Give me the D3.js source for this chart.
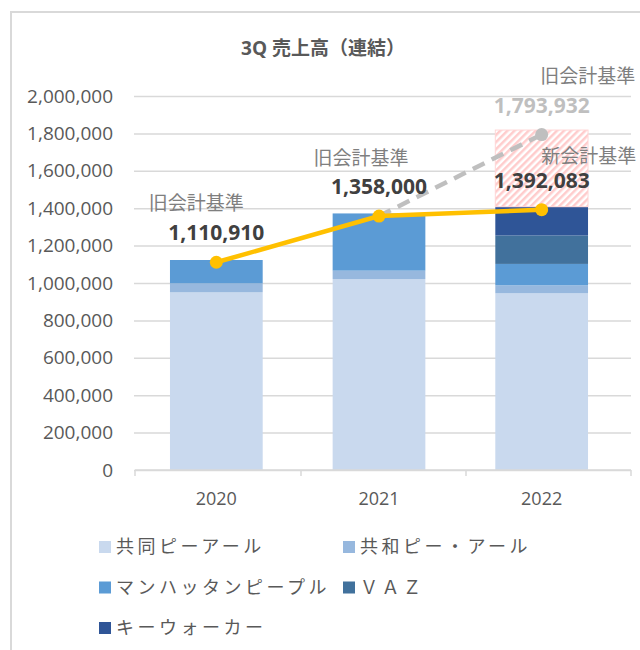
<!DOCTYPE html>
<html>
<head>
<meta charset="utf-8">
<script src="https://cdn.jsdelivr.net/npm/d3@7"></script>
<style>
  body { margin: 0; background: #fff; }
  svg text { font-family: "Open Sans", "Noto Sans CJK JP", sans-serif; }
</style>
</head>
<body>
<div id="chart"></div>
<script>
// data
const years = ["2020", "2021", "2022"];
const seriesNames = ["共同ピーアール", "共和ピー・アール", "マンハッタンピープル", "ＶＡＺ", "キーウォーカー"];
const seriesColors = ["#c9d9ee", "#97b8de", "#5b9bd5", "#41719c", "#2f5597"];
const kyodo = [950000, 1021000, 945000];
const kyowa = [48000, 45000, 43000];
const manhattan = [125000, 306000, 114000];
const vaz = [0, 0, 152000];
const keywalker = [0, 0, 154000];
const oldStandardGap = [0, 0, 410000];   // hatched part, 2022 only
const consolidated = [1110910, 1358000, 1392083];
const oldStandard2022 = 1793932;
const yTicks = [0, 200000, 400000, 600000, 800000, 1000000, 1200000, 1400000, 1600000, 1800000, 2000000];

const width = 640, height = 650;

const svg = d3.select("#chart").append("svg")
    .attr("width", width)
    .attr("height", height);

// hatch pattern for the 2022 old-standard gap
const defs = svg.append("defs");
const pat = defs.append("pattern")
    .attr("id", "hatch")
    .attr("patternUnits", "userSpaceOnUse")
    .attr("width", 5)
    .attr("height", 5)
    .attr("patternTransform", "rotate(45)");
pat.append("rect").attr("width", 5).attr("height", 5).attr("fill", "#fff");
pat.append("rect").attr("width", 2.5).attr("height", 5).attr("fill", "#ffcccc");

// outer chart border (only left/top visible in the crop)
svg.append("path")
    .attr("d", "M11,650 V12 H640")
    .attr("fill", "none")
    .attr("stroke", "#d9d9d9")
    .attr("stroke-width", 2);

svg.append("text")
    .attr("x", 323)
    .attr("y", 55)
    .attr("text-anchor", "middle")
    .attr("font-size", 19)
    .attr("font-weight", "bold")
    .attr("fill", "#595959")
    .text("3Q 売上高（連結）");

const x = d3.scaleBand()
    .domain(years)
    .range([135, 623])
    .paddingInner(0.43)
    .paddingOuter(0.215);

const y = d3.scaleLinear()
    .domain([0, 2000000])
    .range([470, 96]);

// gridlines + y labels
const yAxis = svg.append("g")
    .attr("transform", "translate(134,0)")
    .call(d3.axisLeft(y).tickValues(yTicks).tickFormat(d3.format(",")).tickSize(-497).tickPadding(21));
yAxis.select(".domain").remove();
yAxis.selectAll(".tick line").attr("stroke", "#d9d9d9").attr("stroke-width", 1.5);
yAxis.selectAll(".tick text")
    .attr("font-size", 19)
    .attr("fill", "#595959");

// stacked bars
const rows = years.map((yr, i) => ({
    year: yr,
    s0: kyodo[i], s1: kyowa[i], s2: manhattan[i], s3: vaz[i], s4: keywalker[i], s5: oldStandardGap[i]
}));
const stack = d3.stack().keys(["s0", "s1", "s2", "s3", "s4", "s5"]);
const stacked = stack(rows);

stacked.forEach((layer, li) => {
    svg.append("g")
        .selectAll("rect")
        .data(layer.filter(d => d[1] > d[0]))
        .enter()
        .append("rect")
        .attr("x", d => x(d.data.year))
        .attr("width", x.bandwidth())
        .attr("y", d => y(d[1]))
        .attr("height", d => y(d[0]) - y(d[1]))
        .attr("fill", li < 5 ? seriesColors[li] : "url(#hatch)")
        .attr("stroke", li < 5 ? "none" : "#ffd6d6")
        .attr("stroke-width", 1);
});

// x axis
const xAxis = svg.append("g")
    .attr("transform", "translate(0,470)");
xAxis.append("line")
    .attr("x1", 135).attr("x2", 631)
    .attr("stroke", "#d9d9d9").attr("stroke-width", 1.5);
const bounds = [135, 301, 466, 631];
xAxis.selectAll(".tk")
    .data(bounds)
    .enter()
    .append("line")
    .attr("x1", d => d).attr("x2", d => d)
    .attr("y1", 0).attr("y2", 6)
    .attr("stroke", "#d9d9d9").attr("stroke-width", 1.5);
xAxis.selectAll(".lbl")
    .data(years)
    .enter()
    .append("text")
    .attr("x", d => x(d) + x.bandwidth() / 2)
    .attr("y", 35)
    .attr("text-anchor", "middle")
    .attr("font-size", 18)
    .attr("fill", "#595959")
    .text(d => d);

const cx = d => x(d) + x.bandwidth() / 2;

// old-standard dashed line 2021 -> 2022
svg.append("line")
    .attr("x1", cx(years[1])).attr("y1", y(consolidated[1]))
    .attr("x2", cx(years[2])).attr("y2", y(oldStandard2022))
    .attr("stroke", "#bfbfbf")
    .attr("stroke-width", 4.5)
    .attr("stroke-dasharray", "13,8");
svg.append("circle")
    .attr("cx", cx(years[2])).attr("cy", y(oldStandard2022))
    .attr("r", 6.5)
    .attr("fill", "#bfbfbf");

// consolidated line
const line = d3.line()
    .x((d, i) => cx(years[i]))
    .y(d => y(d));
svg.append("path")
    .datum(consolidated)
    .attr("d", line)
    .attr("fill", "none")
    .attr("stroke", "#ffc000")
    .attr("stroke-width", 4.5);
svg.append("g")
    .selectAll("circle")
    .data(consolidated)
    .enter()
    .append("circle")
    .attr("cx", (d, i) => cx(years[i]))
    .attr("cy", d => y(d))
    .attr("r", 6.5)
    .attr("fill", "#ffc000");

// value labels
const fmt = d3.format(",");
svg.append("g")
    .selectAll("text")
    .data(consolidated)
    .enter()
    .append("text")
    .attr("x", (d, i) => cx(years[i]))
    .attr("y", d => y(d) - 22)
    .attr("text-anchor", "middle")
    .attr("font-size", 21)
    .attr("font-weight", "bold")
    .attr("fill", "#404040")
    .text(d => fmt(d));
svg.append("text")
    .attr("x", cx(years[2]))
    .attr("y", y(oldStandard2022) - 22)
    .attr("text-anchor", "middle")
    .attr("font-size", 21)
    .attr("font-weight", "bold")
    .attr("fill", "#bfbfbf")
    .text(fmt(oldStandard2022));

// standard tags
const tags = [
    { text: "旧会計基準", i: 0, v: consolidated[0], dx: -20, dy: -52 },
    { text: "旧会計基準", i: 1, v: consolidated[1], dx: -18, dy: -51 },
    { text: "新会計基準", i: 2, v: consolidated[2], dx: 47, dy: -47 },
    { text: "旧会計基準", i: 2, v: oldStandard2022, dx: 46, dy: -52 }
];
svg.append("g")
    .selectAll("text")
    .data(tags)
    .enter()
    .append("text")
    .attr("x", d => cx(years[d.i]) + d.dx)
    .attr("y", d => y(d.v) + d.dy)
    .attr("text-anchor", "middle")
    .attr("font-size", 19)
    .attr("fill", "#7f7f7f")
    .text(d => d.text);

// legend
const legend = svg.append("g");
const legendItems = legend.selectAll("g")
    .data(seriesNames)
    .enter()
    .append("g")
    .attr("transform", (d, i) => `translate(${i % 2 === 0 ? 99 : 343}, ${547 + Math.floor(i / 2) * 40.5})`);
legendItems.append("rect")
    .attr("x", 0).attr("y", -6)
    .attr("width", 12).attr("height", 12)
    .attr("fill", (d, i) => seriesColors[i]);
legendItems.append("text")
    .attr("x", 17)
    .attr("y", 6)
    .attr("font-size", 18)
    .attr("letter-spacing", 3.5)
    .attr("fill", "#595959")
    .text(d => d);
</script>
</body>
</html>
